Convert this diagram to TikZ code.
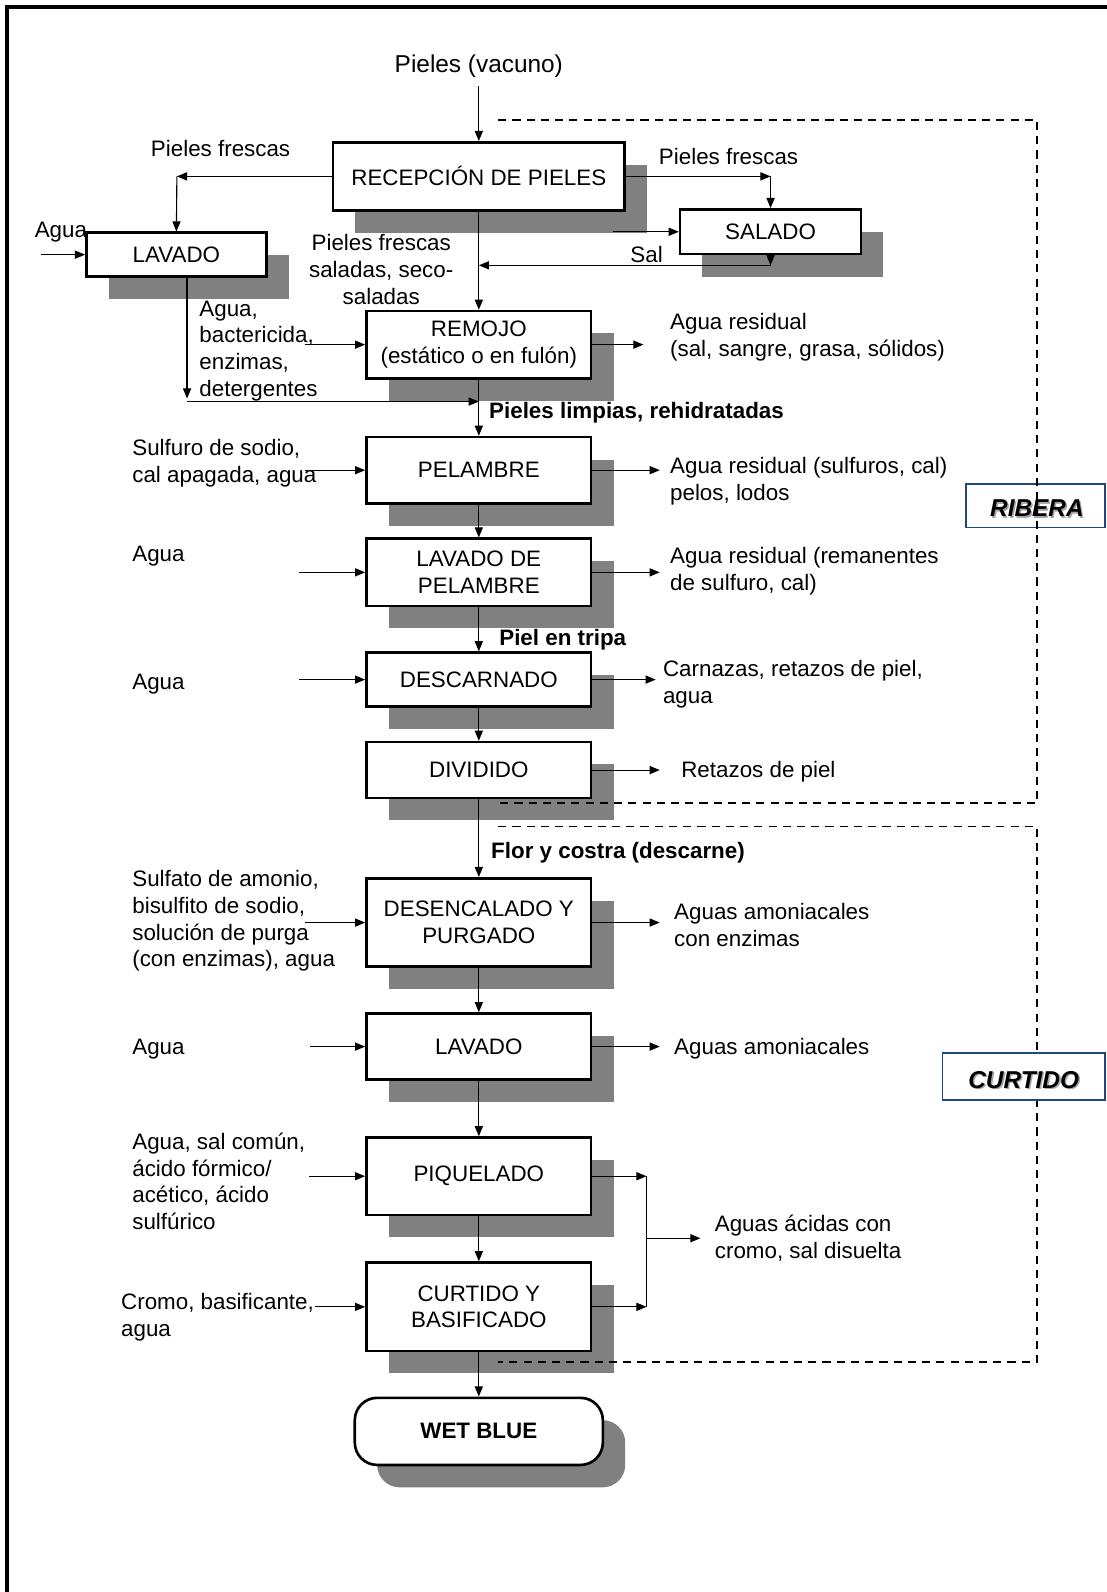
\documentclass[tikz,border=0pt]{standalone}
\usepackage{fontspec}
\setmainfont{Liberation Sans}
\usetikzlibrary{arrows.meta,shadows}
\definecolor{shadowgray}{RGB}{128,128,128}
\definecolor{labelblue}{RGB}{31,73,125}
\newcommand\myfs{\fontsize{22}{26.3}\selectfont}
\newcommand\mylab{\fontsize{24}{28}\selectfont\bfseries\itshape}
\begin{document}
\begin{tikzpicture}[x=1pt,y=-1pt,
  arr/.style={-{Triangle[length=10pt,width=8pt]},line width=1.1pt},
  ln/.style={line width=1.1pt},
  dashline/.style={line width=1.7pt,dash pattern=on 8pt off 6pt},
  procbox/.style={draw,line width=2.6pt,fill=white,inner sep=0pt,align=center,font=\myfs,
    drop shadow={shadow xshift=22pt,shadow yshift=-22pt,fill=shadowgray,opacity=1}},
  txt/.style={inner sep=0pt,font=\myfs,align=left},
  btxt/.style={inner sep=0pt,font=\myfs\bfseries,align=left},
  phase/.style={draw=labelblue,line width=1.6pt,inner sep=0pt}]
\useasboundingbox (0,0) rectangle (1088,1566);
% outer frame
\draw[line width=3.2pt] (7,1570) -- (7,7) -- (1092,7);

% ---------- process boxes ----------
\node[procbox,minimum width=287pt,minimum height=67pt] (rec) at (471,173.5) {RECEPCIÓN DE PIELES};
\node[procbox,minimum width=177pt,minimum height=43pt] (lav1) at (173.5,250.5) {LAVADO};
\node[procbox,minimum width=178pt,minimum height=44pt] (sal) at (758,228) {SALADO};
\node[procbox,minimum width=221pt,minimum height=66pt] (rem) at (471,339) {REMOJO\\(estático o en fulón)};
\node[procbox,minimum width=221pt,minimum height=65pt] (pel) at (471,462.5) {PELAMBRE};
\node[procbox,minimum width=221pt,minimum height=66pt] (lpel) at (471,563) {LAVADO DE\\PELAMBRE};
\node[procbox,minimum width=221pt,minimum height=53pt] (des) at (471,668.5) {DESCARNADO};
\node[procbox,minimum width=221pt,minimum height=55pt] (div) at (471,757.5) {DIVIDIDO};
\node[procbox,minimum width=221pt,minimum height=87pt] (dyp) at (471,907.5) {DESENCALADO Y\\PURGADO};
\node[procbox,minimum width=221pt,minimum height=65pt] (lav2) at (471,1029.5) {LAVADO};
\node[procbox,minimum width=221pt,minimum height=76pt] (piq) at (471,1157) {PIQUELADO};
\node[procbox,minimum width=221pt,minimum height=87pt] (cyb) at (471,1285.5) {CURTIDO Y\\BASIFICADO};
\node[procbox,rounded corners=22pt,minimum width=244pt,minimum height=66pt,font=\myfs\bfseries] (wb) at (471,1408) {WET BLUE};

% ---------- phase labels and dashed regions ----------
\node[phase,minimum width=137pt,minimum height=43pt] (rib) at (1018.5,497.5) {};
\node[font=\mylab,text=gray!70] at (1021.5,501.5) {RIBERA};
\node[font=\mylab] (ribt) at (1020,500) {RIBERA};
\draw[dashline] (490,118) -- (1020,118) -- (1020,790) -- (490,790);
\draw[dashline] (490,813) -- (1020,813) -- (1020,1340) -- (490,1340);
\node[phase,fill=white,minimum width=160pt,minimum height=46pt] (cur) at (1007,1059) {};
\node[font=\mylab,text=gray!70] at (1008.5,1063.5) {CURTIDO};
\node[font=\mylab] (curt) at (1007,1062) {CURTIDO};

% ---------- text labels ----------
\node[txt,font=\fontsize{24}{28}\selectfont] (pv) at (471,65) {Pieles (vacuno)};
\node[txt] (pf1) at (217,146) {Pieles frescas};
\node[txt,anchor=west] (ag0) at (34,228) {Agua};
\node[txt,anchor=west] (pf2) at (648,154) {Pieles frescas};
\node[txt] (sl) at (636,250) {Sal};
\node[txt,align=center] (pfs) at (375,265) {Pieles frescas\\saladas, seco-\\saladas};
\node[txt,anchor=west] (abe) at (196,345) {Agua,\\bactericida,\\enzimas,\\detergentes};
\node[txt,anchor=west] (o1) at (659,332) {Agua residual\\(sal, sangre, grasa, sólidos)};
\node[btxt,anchor=west] (b1) at (481,406) {Pieles limpias, rehidratadas};
\node[txt,anchor=west] (i2) at (130,456) {Sulfuro de sodio,\\cal apagada, agua};
\node[txt,anchor=west] (o2) at (659,473) {Agua residual (sulfuros, cal)\\pelos, lodos};
\node[txt,anchor=west] (i3) at (130,547) {Agua};
\node[txt,anchor=west] (o3) at (659,562) {Agua residual (remanentes\\de sulfuro, cal)};
\node[btxt,anchor=west] (b2) at (491,629) {Piel en tripa};
\node[txt,anchor=west] (i4) at (130,673) {Agua};
\node[txt,anchor=west] (o4) at (652,673) {Carnazas, retazos de piel,\\agua};
\node[txt,anchor=west] (o5) at (670,759) {Retazos de piel};
\node[btxt,anchor=west] (b3) at (483,839) {Flor y costra (descarne)};
\node[txt,anchor=west] (i6) at (130,906) {Sulfato de amonio,\\bisulfito de sodio,\\solución de purga\\(con enzimas), agua};
\node[txt,anchor=west] (o6) at (663,910) {Aguas amoniacales\\con enzimas};
\node[txt,anchor=west] (i7) at (130,1032) {Agua};
\node[txt,anchor=west] (o7) at (663,1032) {Aguas amoniacales};
\node[txt,anchor=west] (i8) at (130,1162) {Agua, sal común,\\ácido fórmico/\\acético, ácido\\sulfúrico};
\node[txt,anchor=west] (i9) at (119,1296) {Cromo, basificante,\\agua};
\node[txt,anchor=west] (o8) at (703,1218) {Aguas ácidas con\\cromo, sal disuelta};

% ---------- coordinates ----------
\coordinate (top) at (471,85);
\coordinate (cL) at (174,173.5);
\coordinate (cR) at (758,173.5);
\coordinate (salin) at (603,228);
\coordinate (salc) at (758,261);
\coordinate (salm) at (471,261);
\coordinate (agin) at (40,250.5);
\coordinate (lvd) at (184,392);
\coordinate (lvh) at (184,395);
\coordinate (lvm) at (471,395);
\coordinate (remin) at (300,339);
\coordinate (remout) at (633,339);
\coordinate (pelin) at (300,462.5);
\coordinate (pelout) at (649,462.5);
\coordinate (lpin) at (294,563);
\coordinate (lpout) at (649,563);
\coordinate (desin) at (294,668.5);
\coordinate (desout) at (645,668.5);
\coordinate (divout) at (649,757.5);
\coordinate (dypin) at (300,907.5);
\coordinate (dypout) at (649,907.5);
\coordinate (l2in) at (305,1029.5);
\coordinate (l2out) at (649,1029.5);
\coordinate (piqin) at (304,1157);
\coordinate (piqout) at (636,1157);
\coordinate (cybin) at (310,1285.5);
\coordinate (cybout) at (636,1285.5);
\coordinate (brm) at (636,1218);
\coordinate (brout) at (689,1218);

% ---------- connectors ----------
\draw[arr] (top) -- (rec.north);
\draw[arr] (rec.west) -- (cL);
\draw[arr] (cL) -- (lav1.north);
\draw[arr] (rec.east) -- (cR);
\draw[arr] (cR) -- (sal.north);
\draw[arr] (salin) -- (sal.west);
\draw[arr] (sal.south) -- (salc);
\draw[arr] (salc) -- (salm);
\draw[arr] (agin) -- (lav1.west);
\draw[arr] (lav1.south -| lvd) -- (lvd);
\draw[arr] (lvh) -- (lvm);
\draw[arr] (rec.south) -- (rem.north);
\draw[arr] (remin) -- (rem.west);
\draw[arr] (rem.east) -- (remout);
\draw[arr] (rem.south) -- (pel.north);
\draw[arr] (pelin) -- (pel.west);
\draw[arr] (pel.east) -- (pelout);
\draw[arr] (pel.south) -- (lpel.north);
\draw[arr] (lpin) -- (lpel.west);
\draw[arr] (lpel.east) -- (lpout);
\draw[arr] (lpel.south) -- (des.north);
\draw[arr] (desin) -- (des.west);
\draw[arr] (des.east) -- (desout);
\draw[arr] (des.south) -- (div.north);
\draw[arr] (div.east) -- (divout);
\draw[arr] (div.south) -- (dyp.north);
\draw[arr] (dypin) -- (dyp.west);
\draw[arr] (dyp.east) -- (dypout);
\draw[arr] (dyp.south) -- (lav2.north);
\draw[arr] (l2in) -- (lav2.west);
\draw[arr] (lav2.east) -- (l2out);
\draw[arr] (lav2.south) -- (piq.north);
\draw[arr] (piqin) -- (piq.west);
\draw[arr] (piq.east) -- (piqout);
\draw[arr] (piq.south) -- (cyb.north);
\draw[arr] (cybin) -- (cyb.west);
\draw[arr] (cyb.east) -- (cybout);
\draw[ln] (piqout) -- (cybout);
\draw[arr] (brm) -- (brout);
\draw[arr] (cyb.south) -- (wb.north);
\end{tikzpicture}
\end{document}
